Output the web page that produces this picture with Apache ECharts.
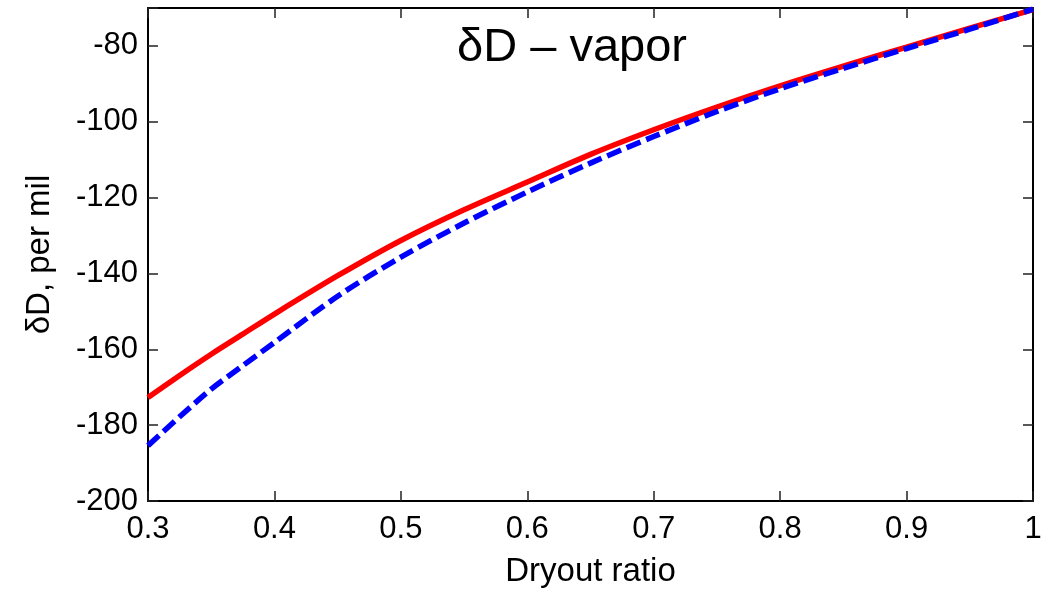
<!DOCTYPE html>
<html>
<head>
<meta charset="utf-8">
<script src="https://cdn.jsdelivr.net/npm/echarts@6/dist/echarts.min.js"></script>
<style>
  html, body { margin: 0; padding: 0; background: #fff; }
  #chart { width: 1056px; height: 593px; }
</style>
</head>
<body>
<div id="chart"></div>
<script>
// dryout ratio samples
const dryout = [0.3, 0.325, 0.35, 0.375, 0.4, 0.45, 0.5, 0.55, 0.6, 0.65, 0.7, 0.75, 0.8, 0.85, 0.9, 0.95, 1.0];
// red solid curve
const vaporRed = [-172.7, -166.9, -161.3, -156.0, -150.7, -140.6, -131.3, -123.2, -115.9, -108.6, -102.1, -96.1, -90.5, -85.3, -80.3, -75.3, -70.4];
// blue dashed curve
const vaporBlue = [-185.4, -177.8, -170.5, -164.3, -158.2, -146.0, -135.7, -126.7, -118.5, -110.9, -103.9, -97.3, -91.3, -85.9, -80.7, -75.6, -70.3];

const font = 'Liberation Sans, Arial, sans-serif';
const chart = echarts.init(document.getElementById('chart'));

const pairs = (ys) => dryout.map((x, i) => [x, ys[i]]);

const tick = { show: true, inside: true, length: 10, lineStyle: { color: '#222', width: 1.5 } };
const line = { show: true, onZero: false, lineStyle: { color: '#000', width: 2 } };

chart.setOption({
  animation: false,
  backgroundColor: '#fff',
  title: {
    text: 'δD – vapor',
    left: 567,
    top: 20,
    textAlign: 'center',
    textStyle: { fontFamily: font, fontSize: 47, fontWeight: 'normal', color: '#000' },
  },
  grid: { left: 148, right: 23, top: 8, bottom: 92 },
  xAxis: [
    {
      type: 'value',
      min: 0.3,
      max: 1,
      interval: 0.1,
      name: 'Dryout ratio',
      nameLocation: 'middle',
      nameGap: 54,
      nameTextStyle: { fontFamily: font, fontSize: 33, color: '#000' },
      axisLine: line,
      axisTick: tick,
      splitLine: { show: false },
      axisLabel: {
        margin: 13,
        fontFamily: font,
        fontSize: 31,
        color: '#000',
        formatter: (v) => String(+v.toFixed(1)),
      },
    },
    {
      type: 'value',
      position: 'top',
      min: 0.3,
      max: 1,
      interval: 0.1,
      axisLine: line,
      axisTick: tick,
      axisLabel: { show: false },
      splitLine: { show: false },
    },
  ],
  yAxis: [
    {
      type: 'value',
      min: -200,
      max: -70,
      interval: 20,
      name: 'δD, per mil',
      nameLocation: 'middle',
      nameGap: 92,
      nameTextStyle: { fontFamily: font, fontSize: 33, color: '#000' },
      axisLine: line,
      axisTick: tick,
      splitLine: { show: false },
      axisLabel: {
        margin: 10,
        fontFamily: font,
        fontSize: 31,
        color: '#000',
        formatter: (v) => (v === -70 ? '' : String(v)),
      },
    },
    {
      type: 'value',
      position: 'right',
      min: -200,
      max: -70,
      interval: 20,
      axisLine: line,
      axisTick: tick,
      axisLabel: { show: false },
      splitLine: { show: false },
    },
  ],
  series: [
    {
      name: 'red',
      type: 'line',
      data: pairs(vaporRed),
      smooth: 0.3,
      symbol: 'none',
      lineStyle: { color: '#ff0000', width: 5.5 },
      z: 2,
    },
    {
      name: 'blue',
      type: 'line',
      data: pairs(vaporBlue),
      smooth: 0.3,
      symbol: 'none',
      lineStyle: { color: '#0000ff', width: 5.5, type: [15, 6] },
      z: 3,
    },
  ],
});
</script>
</body>
</html>
